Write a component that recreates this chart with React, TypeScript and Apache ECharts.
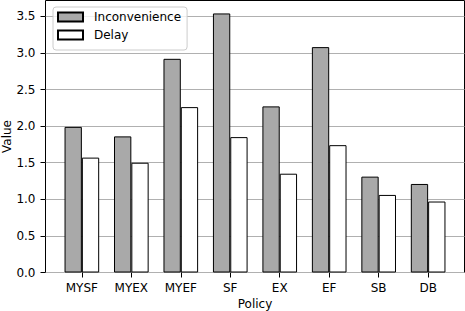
import React, { useEffect, useRef } from "react";
import * as echarts from "echarts";

const categories = ["MYSF", "MYEX", "MYEF", "SF", "EX", "EF", "SB", "DB"];
const inconvenience = [1.99, 1.86, 2.92, 3.54, 2.27, 3.08, 1.31, 1.21];
const delay = [1.57, 1.5, 2.26, 1.85, 1.35, 1.74, 1.06, 0.97];
const yTicks = [0, 0.5, 1, 1.5, 2, 2.5, 3, 3.5];
const yMax = 3.717;

const FONT = "DejaVu Sans";

export default function App() {
  const ref = useRef<HTMLDivElement>(null);
  useEffect(() => {
    document.body.style.margin = "0";
    const chart = echarts.init(ref.current!, null, { renderer: "svg" });
    const left = 45.5;
    const right = 464.5;
    const unit = (right - left) / 8.47;
    const barLeft = left + 0.235 * unit;
    const barRight = barLeft + 8 * unit;
    chart.setOption({
      animation: false,
      textStyle: { fontFamily: FONT },
      grid: [
        {
          left: left,
          right: 465 - right,
          top: 0.5,
          bottom: 38.5,
          show: true,
          borderColor: "#000",
          borderWidth: 1,
          backgroundColor: "transparent",
          containLabel: false,
          outerBoundsMode: "none",
        },
        {
          left: barLeft,
          right: 465 - barRight,
          top: 0.5,
          bottom: 38.5,
          containLabel: false,
          outerBoundsMode: "none",
        },
      ],
      legend: {
        orient: "vertical",
        left: 53,
        top: 7,
        icon: "rect",
        itemWidth: 25,
        itemHeight: 9,
        itemGap: 6,
        padding: [4, 6, 9, 4],
        borderColor: "#cccccc",
        borderWidth: 1,
        borderRadius: 3,
        backgroundColor: "rgba(255,255,255,0.8)",
        textStyle: { fontFamily: FONT, fontSize: 12, color: "#000", padding: [0, 0, 0, 6] },
        data: ["Inconvenience", "Delay"],
      },
      xAxis: [
        { gridIndex: 0, type: "value", min: 0, max: 1, show: false },
        {
          gridIndex: 1,
          type: "category",
          data: categories,
          axisLine: { show: false },
          axisTick: { show: true, alignWithLabel: true, length: 5, lineStyle: { color: "#000" } },
          axisLabel: { fontFamily: FONT, fontSize: 12, color: "#000", margin: 9 },
          name: "Policy",
          nameLocation: "middle",
          nameGap: 25,
          nameMoveOverlap: false,
          nameTextStyle: { fontFamily: FONT, fontSize: 12, color: "#000" },
        },
      ],
      yAxis: [
        {
          gridIndex: 0,
          type: "value",
          min: 0,
          max: yMax,
          interval: 0.5,
          axisLine: { show: false },
          axisTick: { show: true, length: 5, lineStyle: { color: "#000" }, customValues: yTicks },
          axisLabel: {
            fontFamily: FONT,
            fontSize: 12,
            color: "#000",
            margin: 10,
            customValues: yTicks,
            formatter: (v: number) => v.toFixed(1),
          },
          splitLine: { show: true, lineStyle: { color: "#b0b0b0", width: 1 } },
          name: "Value",
          nameLocation: "middle",
          nameRotate: 90,
          nameGap: 33,
          nameMoveOverlap: false,
          nameTextStyle: { fontFamily: FONT, fontSize: 12, color: "#000" },
        },
        { gridIndex: 1, type: "value", min: 0, max: yMax, show: false },
      ],
      series: [
        {
          name: "Inconvenience",
          type: "bar",
          xAxisIndex: 1,
          yAxisIndex: 1,
          data: inconvenience,
          barWidth: 0.35 * unit,
          barGap: "0%",
          itemStyle: { color: "#a9a9a9", borderColor: "#000", borderWidth: 1 },
        },
        {
          name: "Delay",
          type: "bar",
          xAxisIndex: 1,
          yAxisIndex: 1,
          data: delay,
          barWidth: 0.35 * unit,
          barGap: "0%",
          itemStyle: { color: "#ffffff", borderColor: "#000", borderWidth: 1 },
        },
      ],
    });
    return () => chart.dispose();
  }, []);
  return <div ref={ref} style={{ width: 465, height: 311 }} />;
}
